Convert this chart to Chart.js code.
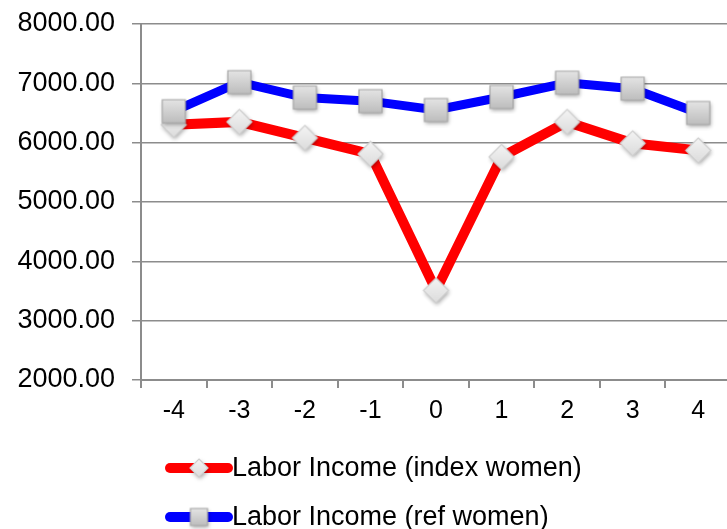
<!DOCTYPE html>
<html>
<head>
<meta charset="utf-8">
<script src="https://cdn.jsdelivr.net/npm/chart.js@4/dist/chart.umd.min.js"></script>
<style>
  html, body { margin: 0; padding: 0; background: #fff; overflow: hidden; }
  canvas { display: block; }
</style>
</head>
<body>
<canvas id="lineChart" width="731" height="529"></canvas>
<script>
// data
const categories = ['-4', '-3', '-2', '-1', '0', '1', '2', '3', '4'];
const indexWomen = [6300, 6350, 6080, 5810, 3510, 5760, 6350, 5990, 5870];
const refWomen = [6530, 7020, 6760, 6700, 6550, 6770, 7010, 6910, 6500];
const seriesNames = ['Labor Income (index women)', 'Labor Income (ref women)'];

const FONT = '"Liberation Sans", Arial, sans-serif';
const GRID = '#8c8c8c';

// gray gradient markers with a soft shadow, like the spreadsheet ones
function makeMarker(kind, half) {
  const pad = 6;
  const size = (half + pad) * 2;
  const c = document.createElement('canvas');
  c.width = size; c.height = size;
  const g = c.getContext('2d');
  const m = size / 2;
  g.beginPath();
  if (kind === 'diamond') {
    g.moveTo(m, m - half); g.lineTo(m + half, m); g.lineTo(m, m + half); g.lineTo(m - half, m);
  } else {
    g.rect(m - half, m - half, half * 2, half * 2);
  }
  g.closePath();
  const grad = g.createLinearGradient(0, m - half, 0, m + half);
  if (kind === 'diamond') {
    grad.addColorStop(0, '#f4f4f4'); grad.addColorStop(1, '#dcdcdc');
  } else {
    grad.addColorStop(0, '#e4e4e4'); grad.addColorStop(1, '#bdbdbd');
  }
  g.save();
  g.shadowColor = 'rgba(0,0,0,0.35)';
  g.shadowBlur = 4;
  g.shadowOffsetX = 1;
  g.shadowOffsetY = 2;
  g.fillStyle = grad;
  g.fill();
  g.restore();
  g.lineWidth = 1.2;
  g.strokeStyle = kind === 'diamond' ? '#cfcfcf' : '#a8a8a8';
  g.stroke();
  return c;
}

const diamond = makeMarker('diamond', 12.5);
const square = makeMarker('square', 11.5);
const diamondSmall = makeMarker('diamond', 9);
const squareSmall = makeMarker('square', 8.5);

// legend drawn below the axis, rows left aligned
const legendPlugin = {
  id: 'sheetLegend',
  afterDraw(chart) {
    const ctx = chart.ctx;
    const base = chart.chartArea.bottom;
    const rows = [
      { y: base + 88, color: '#ff0000', img: diamondSmall, text: seriesNames[0] },
      { y: base + 137, color: '#0000ff', img: squareSmall, text: seriesNames[1] }
    ];
    ctx.save();
    rows.forEach(r => {
      ctx.strokeStyle = r.color;
      ctx.lineWidth = 10;
      ctx.lineCap = 'round';
      ctx.beginPath();
      ctx.moveTo(170, r.y);
      ctx.lineTo(228, r.y);
      ctx.stroke();
      ctx.drawImage(r.img, 199 - r.img.width / 2, r.y - r.img.height / 2);
      ctx.fillStyle = '#000';
      ctx.font = '27px ' + FONT;
      ctx.textBaseline = 'middle';
      ctx.textAlign = 'left';
      ctx.fillText(r.text, 232, r.y + 1);
    });
    ctx.restore();
  }
};

const ctx = document.getElementById('lineChart').getContext('2d');
const lineChart = new Chart(ctx, {
  type: 'line',
  data: {
    labels: categories,
    datasets: [
      {
        label: seriesNames[0],
        data: indexWomen,
        borderColor: '#ff0000',
        borderWidth: 10,
        tension: 0,
        pointStyle: diamond,
        pointRadius: 12,
        order: 1
      },
      {
        label: seriesNames[1],
        data: refWomen,
        borderColor: '#0000ff',
        borderWidth: 9,
        tension: 0,
        pointStyle: square,
        pointRadius: 12,
        order: 0
      }
    ]
  },
  options: {
    responsive: false,
    animation: false,
    layout: { autoPadding: false, padding: { top: 24, bottom: 94, left: 0, right: 0 } },
    scales: {
      x: {
        offset: true,
        afterFit: s => { s.height = 55; },
        grid: { display: true, drawOnChartArea: false, tickLength: 8, color: GRID, lineWidth: 2, offset: true },
        border: { color: GRID, width: 2 },
        ticks: { color: '#000', font: { family: FONT, size: 25 }, padding: 8, maxRotation: 0 }
      },
      y: {
        min: 2000,
        max: 8000,
        afterFit: s => { s.width = 141; s.paddingTop = 0; s.paddingBottom = 0; },
        grid: { color: GRID, lineWidth: 1.5, tickLength: 9 },
        border: { color: GRID, width: 2 },
        ticks: {
          stepSize: 1000,
          color: '#000',
          padding: 17,
          font: { family: FONT, size: 27 },
          callback: v => Number(v).toFixed(2)
        }
      }
    },
    plugins: {
      legend: { display: false },
      tooltip: { enabled: false }
    }
  },
  plugins: [legendPlugin]
});
</script>
</body>
</html>
